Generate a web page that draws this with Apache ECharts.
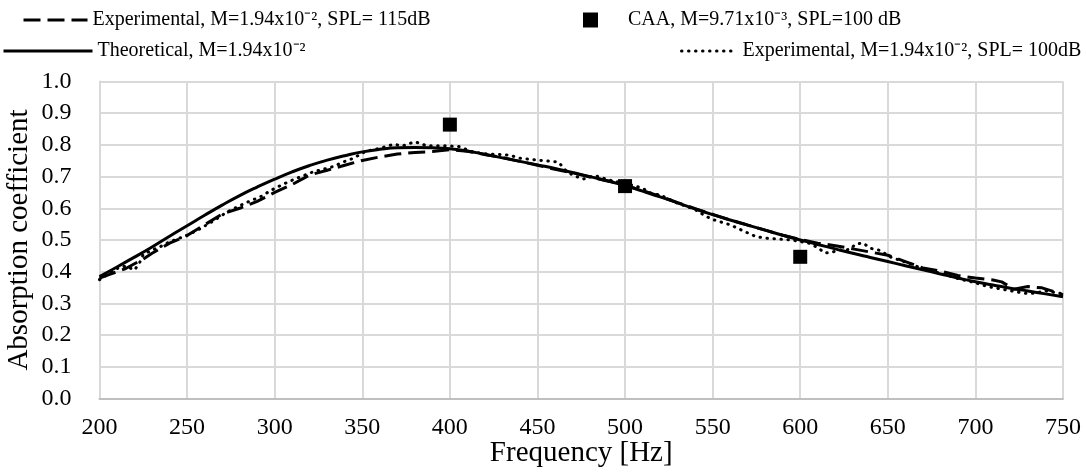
<!DOCTYPE html>
<html>
<head>
<meta charset="utf-8">
<script src="https://cdn.jsdelivr.net/npm/echarts@6/dist/echarts.min.js"></script>
<style>
  html, body { margin: 0; padding: 0; background: #ffffff; }
  #chart { width: 1086px; height: 472px; }
</style>
</head>
<body>
<div id="chart"></div>
<script>
// Absorption coefficient vs frequency: theory, two experiments and CAA points

const xTicks = [200, 250, 300, 350, 400, 450, 500, 550, 600, 650, 700, 750];
const yTicks = [0.0, 0.1, 0.2, 0.3, 0.4, 0.5, 0.6, 0.7, 0.8, 0.9, 1.0];

const seriesNames = [
  'Experimental, M=1.94x10⁻², SPL= 115dB',
  'CAA, M=9.71x10⁻³, SPL=100 dB',
  'Theoretical, M=1.94x10⁻²',
  'Experimental, M=1.94x10⁻², SPL= 100dB'
];

// Theoretical model
const theoFreq = [200, 210, 220, 230, 240, 250, 260, 270, 280, 290, 300, 310, 320, 330, 340, 350,
  360, 370, 380, 390, 400, 410, 420, 430, 440, 450, 460, 470, 480, 490, 500, 510, 520, 530, 540,
  550, 560, 570, 580, 590, 600, 610, 620, 630, 640, 650, 660, 670, 680, 690, 700, 710, 720, 730,
  740, 750];
const theoAlpha = [0.385, 0.415, 0.446, 0.478, 0.512, 0.545, 0.578, 0.610, 0.640, 0.667, 0.692,
  0.715, 0.735, 0.752, 0.766, 0.778, 0.786, 0.791, 0.792, 0.791, 0.788, 0.781, 0.770, 0.759,
  0.748, 0.737, 0.726, 0.713, 0.700, 0.686, 0.672, 0.654, 0.636, 0.617, 0.598, 0.580, 0.563,
  0.547, 0.531, 0.515, 0.500, 0.486, 0.472, 0.458, 0.445, 0.432, 0.419, 0.406, 0.393, 0.380,
  0.368, 0.358, 0.348, 0.339, 0.330, 0.321];

// Experiment at 115 dB
const exp115Freq = [200, 205, 210, 215, 220, 225, 230, 240, 250, 260, 270, 280, 290, 300, 310,
  320, 330, 340, 350, 360, 370, 380, 390, 400, 410, 420, 430, 440, 450, 460, 470, 480, 490, 500,
  510, 520, 530, 540, 550, 560, 570, 580, 590, 600, 610, 620, 630, 640, 650, 660, 670, 680, 690,
  700, 710, 715, 722, 730, 738, 745, 750];
const exp115Alpha = [0.380, 0.390, 0.400, 0.410, 0.425, 0.440, 0.458, 0.490, 0.514, 0.548, 0.582,
  0.600, 0.622, 0.650, 0.675, 0.705, 0.720, 0.736, 0.751, 0.762, 0.771, 0.776, 0.779, 0.785,
  0.780, 0.770, 0.760, 0.748, 0.736, 0.723, 0.712, 0.699, 0.687, 0.672, 0.656, 0.638, 0.618,
  0.599, 0.581, 0.563, 0.547, 0.531, 0.515, 0.502, 0.490, 0.482, 0.472, 0.462, 0.452, 0.432,
  0.412, 0.402, 0.388, 0.380, 0.374, 0.368, 0.345, 0.353, 0.349, 0.337, 0.327];

// Experiment at 100 dB
const exp100Freq = [200, 205, 210, 215, 220, 223, 225, 230, 235, 240, 250, 256, 265, 273, 283,
  292, 300, 308, 315, 322, 333, 340, 345, 352, 360, 368, 373, 380, 387, 398, 405, 413, 420, 434,
  440, 450, 462, 466, 470, 476, 483, 491, 500, 505, 510, 515, 520, 530, 540, 546, 551, 560, 567,
  575, 582, 590, 595, 600, 605, 610, 614, 618, 622, 628, 632, 636, 640, 645, 652, 660, 670, 680,
  690, 700, 707, 715, 722, 728, 734, 740, 745, 750];
const exp100Alpha = [0.375, 0.392, 0.410, 0.418, 0.405, 0.430, 0.455, 0.468, 0.480, 0.494, 0.515,
  0.531, 0.560, 0.589, 0.616, 0.637, 0.663, 0.684, 0.700, 0.715, 0.731, 0.748, 0.758, 0.780,
  0.789, 0.802, 0.797, 0.810, 0.797, 0.797, 0.795, 0.778, 0.772, 0.768, 0.758, 0.752, 0.746,
  0.720, 0.705, 0.692, 0.703, 0.689, 0.678, 0.672, 0.663, 0.647, 0.642, 0.616, 0.596, 0.575,
  0.563, 0.548, 0.530, 0.510, 0.505, 0.502, 0.500, 0.495, 0.490, 0.476, 0.459, 0.461, 0.468,
  0.470, 0.488, 0.490, 0.474, 0.468, 0.445, 0.430, 0.410, 0.395, 0.378, 0.365, 0.353, 0.345,
  0.338, 0.332, 0.332, 0.340, 0.335, 0.330];

// CAA simulation points
const caaFreq = [400, 500, 600];
const caaAlpha = [0.864, 0.670, 0.447];

const pairs = (xs, ys) => xs.map((x, i) => [x, ys[i]]);

const FONT = 'Liberation Serif';
const INK = '#000000';
const DASH = [17, 7];
const DOT = [0.5, 6.5];

// One legend block per entry; line entries show only the stroke sample
function legendBox(name, stroke, left, top, itemWidth, itemHeight, textPadLeft) {
  const box = {
    data: [name],
    left: left,
    top: top,
    padding: 0,
    itemWidth: itemWidth,
    itemHeight: itemHeight,
    itemGap: 0,
    selectedMode: false,
    textStyle: {
      fontFamily: FONT, fontSize: 20, color: INK, lineHeight: 24,
      padding: [0, 0, 0, textPadLeft || 0]
    }
  };
  if (stroke) {
    box.itemStyle = { opacity: 0 };
    box.lineStyle = {
      color: INK, width: 3, type: stroke,
      cap: stroke === DOT ? 'round' : 'butt'
    };
  }
  return box;
}

const chart = echarts.init(document.getElementById('chart'), null, { renderer: 'canvas' });

chart.setOption({
  animation: false,
  backgroundColor: '#ffffff',
  textStyle: { fontFamily: FONT, color: INK },
  legend: [
    legendBox(seriesNames[0], DASH, 22, 8, 64, 14),
    legendBox(seriesNames[1], null, 583, 8, 15, 15, 25),
    legendBox(seriesNames[2], 'solid', 2, 39, 89, 14),
    legendBox(seriesNames[3], DOT, 680, 39, 56, 14)
  ],
  grid: {
    left: 99.5, right: 23, top: 81.5, bottom: 73.5,
    containLabel: false, outerBoundsMode: 'none'
  },
  xAxis: {
    type: 'value',
    min: xTicks[0],
    max: xTicks[xTicks.length - 1],
    interval: xTicks[1] - xTicks[0],
    name: 'Frequency [Hz]',
    nameLocation: 'middle',
    nameGap: 40,
    nameMoveOverlap: false,
    nameTextStyle: { fontFamily: FONT, fontSize: 29, color: INK },
    axisLine: { show: true, lineStyle: { color: '#bfbfbf', width: 2 } },
    axisTick: { show: false },
    axisLabel: { fontFamily: FONT, fontSize: 24, color: INK, margin: 17 },
    splitLine: { show: true, lineStyle: { color: '#d9d9d9', width: 2 } }
  },
  yAxis: {
    type: 'value',
    min: yTicks[0],
    max: yTicks[yTicks.length - 1],
    interval: 0.1,
    name: 'Absorption coefficient',
    nameLocation: 'middle',
    nameRotate: 90,
    nameGap: 66,
    nameMoveOverlap: false,
    nameTextStyle: { fontFamily: FONT, fontSize: 29, color: INK },
    axisLine: { show: true, lineStyle: { color: '#d9d9d9', width: 2 } },
    axisTick: { show: false },
    axisLabel: {
      fontFamily: FONT, fontSize: 24, color: INK, margin: 28,
      formatter: v => v.toFixed(1)
    },
    splitLine: { show: true, lineStyle: { color: '#d9d9d9', width: 2 } }
  },
  series: [
    {
      name: seriesNames[0],
      type: 'line',
      data: pairs(exp115Freq, exp115Alpha),
      symbol: 'none',
      z: 3,
      lineStyle: { color: INK, width: 3, type: DASH, cap: 'butt' },
      itemStyle: { color: INK }
    },
    {
      name: seriesNames[1],
      type: 'scatter',
      data: pairs(caaFreq, caaAlpha),
      symbol: 'rect',
      symbolSize: 14,
      z: 5,
      itemStyle: { color: INK, opacity: 1 }
    },
    {
      name: seriesNames[2],
      type: 'line',
      data: pairs(theoFreq, theoAlpha),
      symbol: 'none',
      smooth: true,
      z: 4,
      lineStyle: { color: INK, width: 3, type: 'solid' },
      itemStyle: { color: INK }
    },
    {
      name: seriesNames[3],
      type: 'line',
      data: pairs(exp100Freq, exp100Alpha),
      symbol: 'none',
      z: 2,
      lineStyle: { color: INK, width: 3, type: DOT, cap: 'round' },
      itemStyle: { color: INK }
    }
  ]
});
</script>
</body>
</html>
